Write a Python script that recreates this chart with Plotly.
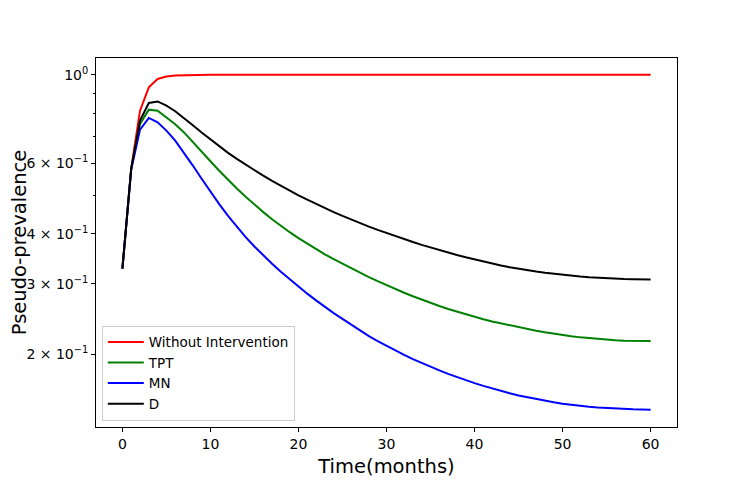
import plotly.graph_objects as go

months = list(range(61))

without_intervention = [
    0.3273, 0.5830, 0.8130, 0.9300, 0.9760, 0.9900, 0.9960, 0.9980, 0.9990, 0.9995,
    1.0, 1.0, 1.0, 1.0, 1.0, 1.0, 1.0, 1.0, 1.0, 1.0,
    1.0, 1.0, 1.0, 1.0, 1.0, 1.0, 1.0, 1.0, 1.0, 1.0,
    1.0, 1.0, 1.0, 1.0, 1.0, 1.0, 1.0, 1.0, 1.0, 1.0,
    1.0, 1.0, 1.0, 1.0, 1.0, 1.0, 1.0, 1.0, 1.0, 1.0,
    1.0, 1.0, 1.0, 1.0, 1.0, 1.0, 1.0, 1.0, 1.0, 1.0,
    1.0,
]

tpt = [
    0.3273, 0.5826, 0.7532, 0.8178, 0.8131, 0.7824, 0.7524, 0.7173, 0.6800, 0.6427,
    0.6075, 0.5752, 0.5459, 0.5193, 0.4951, 0.4731, 0.4532, 0.4350, 0.4186, 0.4037,
    0.3900, 0.3775, 0.3659, 0.3554, 0.3456, 0.3366, 0.3278, 0.3195, 0.3117, 0.3044,
    0.2975, 0.2909, 0.2848, 0.2791, 0.2737, 0.2686, 0.2639, 0.2594, 0.2553, 0.2514,
    0.2478, 0.2445, 0.2414, 0.2386, 0.2358, 0.2332, 0.2309, 0.2287, 0.2267, 0.2248,
    0.2231, 0.2216, 0.2202, 0.2191, 0.2181, 0.2173, 0.2166, 0.2161, 0.2157, 0.2155,
    0.2155,
]

mn = [
    0.3273, 0.5792, 0.7290, 0.7797, 0.7602, 0.7248, 0.6843, 0.6387, 0.5927, 0.5494,
    0.5098, 0.4745, 0.4434, 0.4162, 0.3925, 0.3717, 0.3531, 0.3365, 0.3215, 0.3080,
    0.2952, 0.2833, 0.2725, 0.2625, 0.2533, 0.2449, 0.2366, 0.2289, 0.2219, 0.2155,
    0.2096, 0.2041, 0.1990, 0.1943, 0.1899, 0.1858, 0.1820, 0.1784, 0.1751, 0.1720,
    0.1692, 0.1665, 0.1639, 0.1616, 0.1595, 0.1576, 0.1559, 0.1543, 0.1528, 0.1515,
    0.1503, 0.1493, 0.1484, 0.1476, 0.1470, 0.1465, 0.1460, 0.1457, 0.1455, 0.1453,
    0.1452,
]

d = [
    0.3273, 0.5826, 0.7677, 0.8499, 0.8577, 0.8368, 0.8107, 0.7797, 0.7476, 0.7169,
    0.6883, 0.6619, 0.6376, 0.6157, 0.5954, 0.5766, 0.5590, 0.5425, 0.5271, 0.5128,
    0.4994, 0.4868, 0.4749, 0.4637, 0.4532, 0.4433, 0.4339, 0.4251, 0.4169, 0.4091,
    0.4016, 0.3945, 0.3878, 0.3814, 0.3753, 0.3695, 0.3640, 0.3588, 0.3539, 0.3493,
    0.3449, 0.3408, 0.3369, 0.3332, 0.3299, 0.3269, 0.3241, 0.3217, 0.3195, 0.3175,
    0.3157, 0.3140, 0.3126, 0.3113, 0.3103, 0.3094, 0.3087, 0.3081, 0.3078, 0.3076,
    0.3075,
]

series = [
    ("Without Intervention", without_intervention, "red"),
    ("TPT", tpt, "green"),
    ("MN", mn, "blue"),
    ("D", d, "black"),
]

y_major = [0.2, 0.3, 0.4, 0.6, 1.0]
y_major_text = ["2 × 10<sup>−1</sup>", "3 × 10<sup>−1</sup>", "4 × 10<sup>−1</sup>",
                "6 × 10<sup>−1</sup>", "10<sup>0</sup>"]
y_minor = [0.5, 0.7, 0.8, 0.9]
x_ticks = [0, 10, 20, 30, 40, 50, 60]

fig = go.Figure()
for name, vals, color in series:
    fig.add_trace(go.Scatter(x=months, y=vals, mode="lines", name=name,
                             line=dict(color=color, width=2)))

font = "DejaVu Sans, Liberation Sans, sans-serif"
# page body adds ~8px offset, so margins are trimmed on the left/top
fig.update_layout(
    width=752, height=480,
    margin=dict(l=88, r=83, t=50, b=61, autoexpand=False),
    paper_bgcolor="white", plot_bgcolor="white",
    font=dict(family=font, size=14, color="black"),
    showlegend=True,
    legend=dict(
        x=0.01, y=0.017, xanchor="left", yanchor="bottom",
        bgcolor="rgba(255,255,255,0.8)", bordercolor="#cccccc", borderwidth=1,
        font=dict(size=13.5), tracegroupgap=0, itemwidth=36,
    ),
)
fig.update_xaxes(
    range=[-3, 63], tickvals=x_ticks, showgrid=False, zeroline=False,
    showline=True, mirror=True, linecolor="black", linewidth=1,
    ticks="outside", ticklen=4, tickwidth=1, tickcolor="black", automargin=False,
    tickfont=dict(size=14),
    title=dict(text="Time(months)", font=dict(size=19.5), standoff=8),
)
fig.update_yaxes(
    type="log", range=[-0.8815, 0.042],
    tickvals=y_major, ticktext=y_major_text, showgrid=False, zeroline=False,
    showline=True, mirror=True, linecolor="black", linewidth=1,
    ticks="outside", ticklen=4, tickwidth=1, tickcolor="black", automargin=False,
    tickfont=dict(size=14),
    minor=dict(tickvals=y_minor, ticks="outside", ticklen=2, tickwidth=0.8,
               tickcolor="black", showgrid=False),
    title=dict(text="Pseudo-prevalence", font=dict(size=19.5), standoff=8),
)

fig.write_html("out.html")
